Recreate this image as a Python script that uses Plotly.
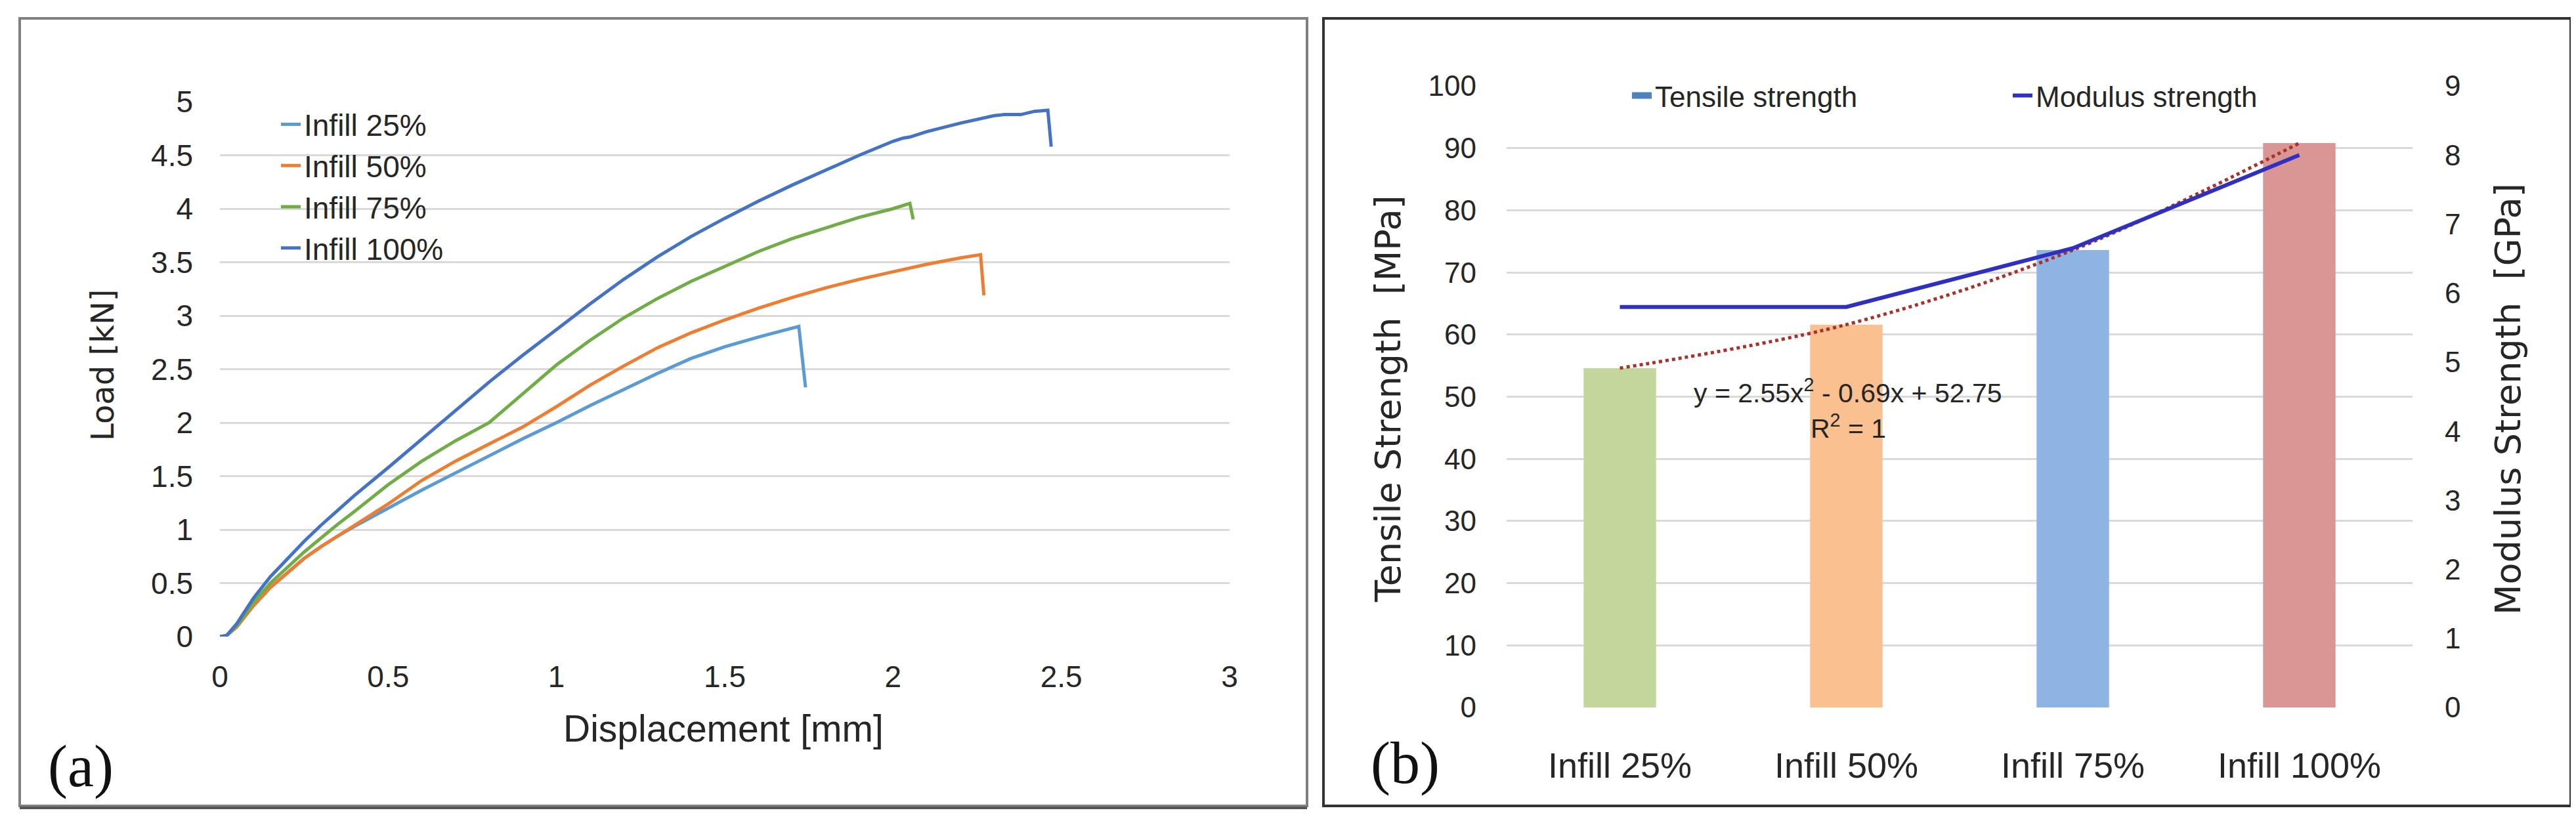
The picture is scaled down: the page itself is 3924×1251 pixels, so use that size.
import plotly.graph_objects as go

# ---------------- data: panel (a) load-displacement curves ----------------
disp_25 = [0, 0.02, 0.05, 0.1, 0.15, 0.2, 0.25, 0.3, 0.35, 0.4, 0.5, 0.6, 0.7, 0.8, 0.9, 1.0, 1.1, 1.2,
           1.3, 1.4, 1.5, 1.6, 1.7, 1.72, 1.74]
load_25 = [0, 0.01, 0.09, 0.29, 0.46, 0.6, 0.73, 0.84, 0.94, 1.03, 1.2, 1.37, 1.53, 1.69, 1.85, 2.0, 2.16, 2.31,
           2.46, 2.6, 2.71, 2.8, 2.88, 2.9, 2.33]

disp_50 = [0, 0.02, 0.05, 0.1, 0.15, 0.2, 0.25, 0.3, 0.35, 0.4, 0.5, 0.6, 0.7, 0.8, 0.9, 1.0, 1.1, 1.2,
           1.3, 1.4, 1.5, 1.6, 1.7, 1.8, 1.9, 2.0, 2.1, 2.2, 2.26, 2.27]
load_50 = [0, 0.01, 0.09, 0.29, 0.46, 0.6, 0.73, 0.84, 0.94, 1.04, 1.24, 1.46, 1.64, 1.8, 1.96, 2.15, 2.35, 2.53,
           2.7, 2.84, 2.96, 3.07, 3.17, 3.26, 3.34, 3.41, 3.48, 3.54, 3.57, 3.19]

disp_75 = [0, 0.02, 0.05, 0.1, 0.15, 0.2, 0.25, 0.3, 0.35, 0.4, 0.5, 0.6, 0.7, 0.8, 0.9, 1.0, 1.1, 1.2,
           1.3, 1.4, 1.5, 1.6, 1.7, 1.8, 1.9, 2.0, 2.05, 2.06]
load_75 = [0, 0.01, 0.1, 0.32, 0.5, 0.65, 0.79, 0.92, 1.05, 1.17, 1.42, 1.64, 1.83, 2.0, 2.27, 2.54, 2.77, 2.98,
           3.16, 3.32, 3.46, 3.6, 3.72, 3.82, 3.92, 4.0, 4.05, 3.9]

disp_100 = [0, 0.02, 0.05, 0.1, 0.15, 0.2, 0.25, 0.3, 0.35, 0.4, 0.5, 0.6, 0.7, 0.8, 0.9, 1.0, 1.1, 1.2,
            1.3, 1.4, 1.5, 1.6, 1.7, 1.8, 1.9, 2.0, 2.03, 2.05, 2.1, 2.2, 2.3, 2.33, 2.38, 2.42, 2.46, 2.47]
load_100 = [0, 0.01, 0.12, 0.36, 0.56, 0.73, 0.89, 1.04, 1.18, 1.32, 1.58, 1.85, 2.12, 2.38, 2.63, 2.87, 3.11, 3.34,
            3.55, 3.74, 3.91, 4.07, 4.22, 4.36, 4.5, 4.63, 4.66, 4.67, 4.72, 4.8, 4.87, 4.88, 4.88, 4.91, 4.92, 4.58]

curve_names = ["Infill 25%", "Infill 50%", "Infill 75%", "Infill 100%"]

# ---------------- data: panel (b) ----------------
categories = ["Infill 25%", "Infill 50%", "Infill 75%", "Infill 100%"]
tensile_mpa = [54.6, 61.6, 73.6, 90.8]
modulus_gpa = [5.8, 5.8, 6.65, 8.0]
equation_text = "y = 2.55x<sup>2</sup> - 0.69x + 52.75"
r2_text = "R<sup>2</sup> = 1"

# ---------------- styles ----------------
W, H = 3924, 1251
SANS = "Liberation Sans, Arial, sans-serif"
WIDE = "DejaVu Sans, Verdana, sans-serif"
SERIF = "Liberation Serif, Times New Roman, serif"
TXT = "#262626"
GRID = "#d9d9d9"
curve_colors = ["#5b9bd5", "#ed7d31", "#70ad47", "#4472c4"]
bar_colors = ["#c3d69b", "#fac090", "#8eb4e3", "#d99694"]
legend_bar_color = "#4f81bd"
modulus_color = "#3030c0"
trend_color = "#a8322a"


def px(x):
    return x / W


def py(y):
    return 1 - y / H


fig = go.Figure()

# panel (a)
for xs, ys, name, col in zip([disp_25, disp_50, disp_75, disp_100],
                             [load_25, load_50, load_75, load_100],
                             curve_names, curve_colors):
    fig.add_trace(go.Scatter(x=xs, y=ys, name=name, mode="lines",
                             line=dict(color=col, width=5),
                             xaxis="x", yaxis="y", legend="legend"))

# panel (b)
fig.add_trace(go.Bar(x=categories, y=tensile_mpa, name="Tensile strength",
                     marker=dict(color=bar_colors, line=dict(width=0)),
                     showlegend=False, xaxis="x2", yaxis="y2"))
fig.add_trace(go.Scatter(x=categories, y=tensile_mpa, mode="lines", showlegend=False,
                         line=dict(color=trend_color, width=5, dash="dot", shape="spline", smoothing=1.0),
                         xaxis="x2", yaxis="y2", hoverinfo="skip"))
# legend proxy for the bar series (Excel shows the series colour in the legend)
fig.add_trace(go.Scatter(x=[None], y=[None], mode="lines", name="Tensile strength",
                         line=dict(color=legend_bar_color, width=24),
                         xaxis="x2", yaxis="y2", legend="legend2"))
fig.add_trace(go.Scatter(x=categories, y=modulus_gpa, mode="lines", name="Modulus strength",
                         line=dict(color=modulus_color, width=6),
                         xaxis="x2", yaxis="y3", legend="legend2"))

tick_a = dict(family=SANS, size=46, color=TXT)
tick_b = dict(family=SANS, size=44, color=TXT)

fig.update_layout(
    width=W, height=H,
    margin=dict(l=0, r=0, t=0, b=0, pad=0, autoexpand=False),
    paper_bgcolor="white", plot_bgcolor="white",
    bargap=0.68, barmode="overlay",
    xaxis=dict(domain=[px(327), px(1865)], range=[0, 3], dtick=0.5, tick0=0,
               showgrid=False, zeroline=False, showline=False, ticks="", automargin=False,
               tickfont=tick_a, anchor="y", ticklabelstandoff=30),
    yaxis=dict(domain=[py(962), py(147)], range=[0, 5], dtick=0.5, tick0=0,
               showgrid=True, gridcolor=GRID, gridwidth=3, zeroline=False, showline=False,
               ticks="", tickfont=tick_a, anchor="x", ticklabelstandoff=40, automargin=False),
    xaxis2=dict(domain=[px(2287), px(3667)], type="category", range=[-0.5, 3.5],
                showgrid=False, zeroline=False, showline=False, ticks="", automargin=False,
                tickfont=dict(family=SANS, size=54, color=TXT), anchor="y2", ticklabelstandoff=52),
    yaxis2=dict(domain=[py(1070), py(123)], range=[0, 100], dtick=10, tick0=0,
                showgrid=True, gridcolor=GRID, gridwidth=3, zeroline=False, showline=False,
                ticks="", tickfont=tick_b, anchor="x2", ticklabelstandoff=45, automargin=False),
    yaxis3=dict(range=[0, 9], dtick=1, tick0=0, overlaying="y2", side="right", anchor="x2",
                showgrid=False, zeroline=False, showline=False, ticks="", automargin=False,
                tickfont=tick_b, ticklabelstandoff=48),
    legend=dict(x=px(415), y=py(145), xanchor="left", yanchor="top",
                font=dict(family=SANS, size=46, color=TXT), bgcolor="rgba(0,0,0,0)",
                tracegroupgap=0),
    legend2=dict(orientation="h", x=px(2473), y=py(138), xanchor="left", yanchor="middle",
                 font=dict(family=SANS, size=44, color=TXT), bgcolor="rgba(0,0,0,0)",
                 entrywidth=535, entrywidthmode="pixels"),
    showlegend=True,
)

annotations = [
    dict(text="Load [kN]", x=px(148), y=py(548), textangle=-90,
         font=dict(family=WIDE, size=48, color=TXT)),
    dict(text="Displacement [mm]", x=px(1094), y=py(1102),
         font=dict(family=SANS, size=57, color=TXT)),
    dict(text="(a)", x=px(115), y=py(1160), font=dict(family=SERIF, size=90, color="#111")),
    dict(text="Tensile Strength\u00a0 [MPa]", x=px(2106), y=py(600), textangle=-90,
         font=dict(family=WIDE, size=54, color=TXT)),
    dict(text="Modulus Strength\u00a0 [GPa]", x=px(3812), y=py(600), textangle=-90,
         font=dict(family=WIDE, size=54, color=TXT)),
    dict(text="(b)", x=px(2132), y=py(1155), font=dict(family=SERIF, size=90, color="#111")),
    dict(text=equation_text, x=px(2807), y=py(588), font=dict(family=SANS, size=41, color=TXT)),
    dict(text=r2_text, x=px(2807), y=py(642), font=dict(family=SANS, size=41, color=TXT)),
]
for a in annotations:
    a.update(xref="paper", yref="paper", showarrow=False, xanchor="center", yanchor="middle")
fig.update_layout(annotations=annotations)

# panel frames
fig.update_layout(shapes=[
    dict(type="rect", xref="paper", yref="paper", x0=px(22), x1=px(1983), y0=py(1220), y1=py(20),
         line=dict(color="#808080", width=4), layer="below"),
    dict(type="line", xref="paper", yref="paper", x0=px(22), x1=px(1983), y0=py(1223), y1=py(1223),
         line=dict(color="#555555", width=4)),
    dict(type="rect", xref="paper", yref="paper", x0=px(2008), x1=px(3908), y0=py(1220), y1=py(20),
         line=dict(color="#333333", width=4), layer="below"),
])

fig.write_html("out.html")
